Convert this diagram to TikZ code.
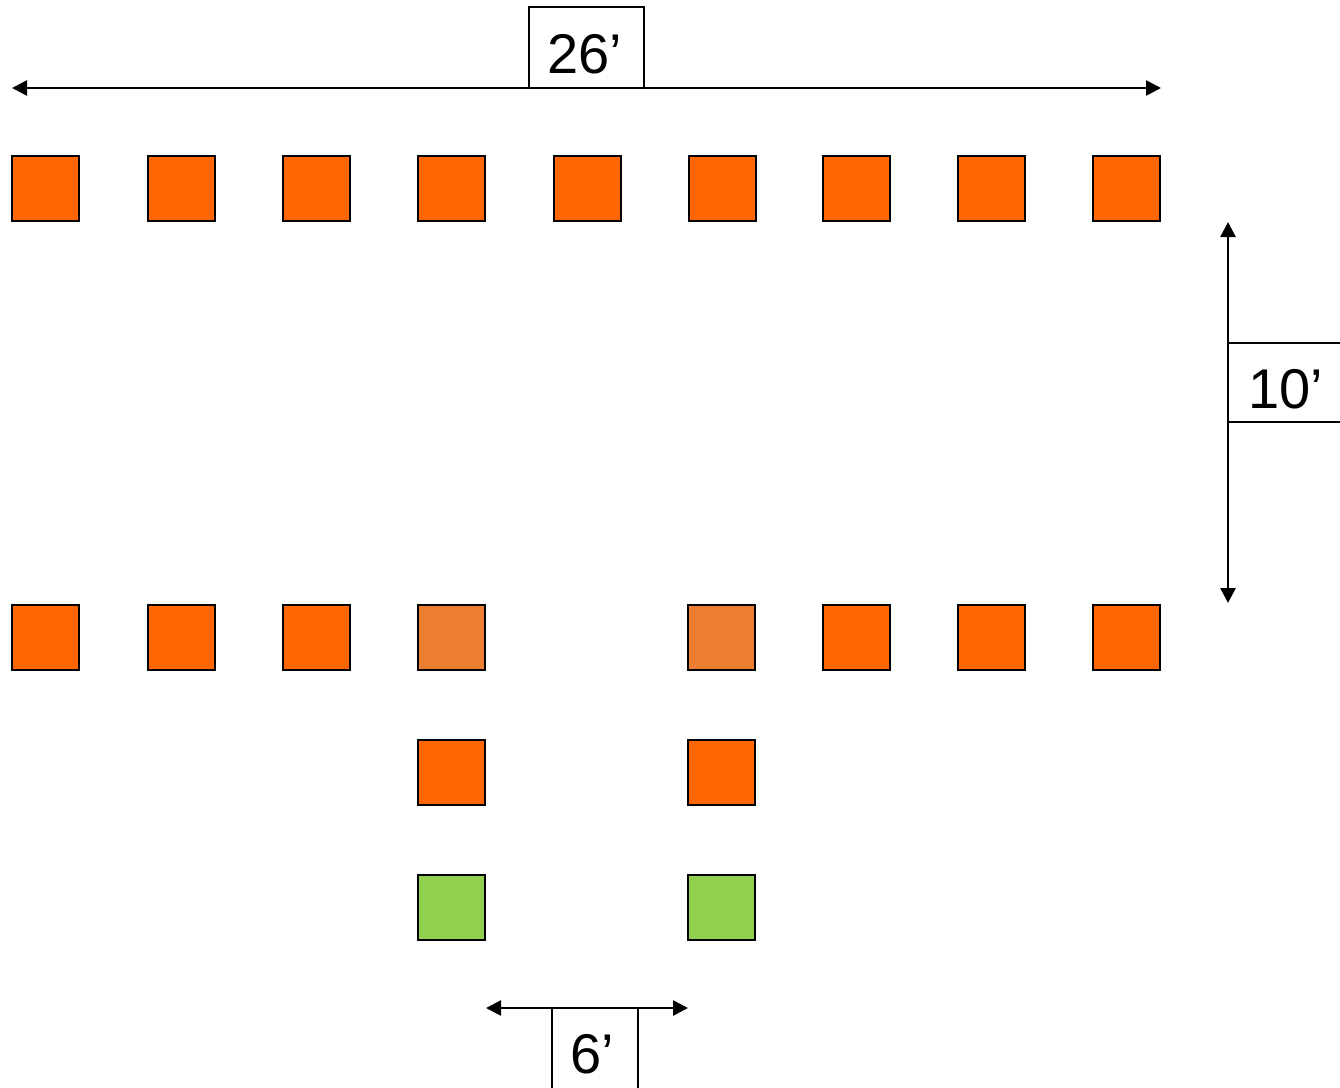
\documentclass[tikz,border=0pt]{standalone}
\usepackage{fontspec}
\setmainfont{Liberation Sans}
\usetikzlibrary{arrows.meta}
\definecolor{cone}{HTML}{FF6600}
\definecolor{clight}{HTML}{ED7D31}
\definecolor{cgreen}{HTML}{92D050}
\tikzset{
  sq/.style={draw=black, line width=2pt, minimum width=67pt, minimum height=65pt, inner sep=0pt, fill=cone},
  sqlight/.style={sq, fill=clight},
  sqgreen/.style={sq, fill=cgreen},
  dimarrow/.style={line width=2.6pt, {Triangle[length=15pt,width=15pt]}-{Triangle[length=15pt,width=15pt]}},
  lblbox/.style={draw=black, line width=1.4pt, inner sep=0pt, fill=white},
  lbltext/.style={font=\fontsize{56}{60}\selectfont, inner sep=0pt, anchor=base}
}
\begin{document}
\begin{tikzpicture}[x=1pt,y=-1pt]
\clip (0,0) rectangle (1340,1087);
\fill[white] (0,0) rectangle (1340,1087);
% top row
\foreach \x [count=\i] in {11,147,282,417,553,688,822,957,1092}{
  \node[sq] (t\i) at (\x+34,188) {};
}
% second row
\node[sq] (m1) at (45,637) {};
\node[sq] (m2) at (181,637) {};
\node[sq] (m3) at (316,637) {};
\node[sqlight] (m4) at (451,637) {};
\node[sqlight] (m6) at (721,637) {};
\node[sq] (m7) at (856,637) {};
\node[sq] (m8) at (991,637) {};
\node[sq] (m9) at (1126,637) {};
% third row
\node[sq] (r1) at (451,772) {};
\node[sq] (r2) at (721,772) {};
% fourth row
\node[sqgreen] (g1) at (451,907) {};
\node[sqgreen] (g2) at (721,907) {};

% label boxes
\node[lblbox, minimum width=115pt, minimum height=81pt] (b26) at (586.5,47.5) {};
\node[lblbox, minimum width=140pt, minimum height=79pt] (b10) at (1298,382.5) {};
\node[lblbox, minimum width=86pt, minimum height=100pt] (b6) at (595,1058) {};

% dimension arrows
\coordinate (a26l) at (12,88);
\coordinate (a26r) at (1161,88);
\draw[dimarrow] (a26l) -- (a26r);
\coordinate (a10t) at (1228,222);
\coordinate (a10b) at (1228,603);
\draw[dimarrow] (a10t) -- (a10b);
\coordinate (a6l) at (486,1008);
\coordinate (a6r) at (688,1008);
\draw[dimarrow] (a6l) -- (a6r);

% texts
\node[lbltext] (t26) at (585,73) {26’};
\node[lbltext] (t10) at (1286,408) {10’};
\node[lbltext] (t6) at (592,1073) {6’};
\end{tikzpicture}
\end{document}
